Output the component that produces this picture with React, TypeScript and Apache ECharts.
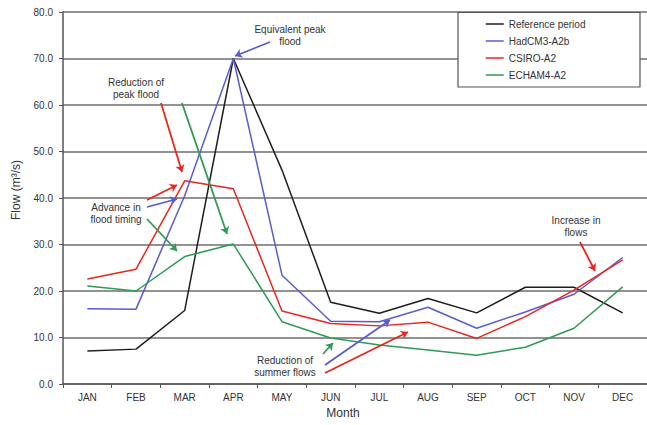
import React, { useEffect, useRef } from "react";
import * as echarts from "echarts";

const months = ["JAN", "FEB", "MAR", "APR", "MAY", "JUN", "JUL", "AUG", "SEP", "OCT", "NOV", "DEC"];
const referencePeriod = [7.1, 7.5, 15.8, 70.0, 46.0, 17.6, 15.2, 18.4, 15.3, 20.8, 20.8, 15.3];
const hadcm3 = [16.2, 16.1, 40.5, 70.0, 23.4, 13.5, 13.4, 16.5, 12.0, 15.5, 19.3, 27.2];
const csiro = [22.6, 24.7, 43.7, 42.0, 15.7, 13.0, 12.5, 13.3, 9.8, 14.5, 20.2, 26.7];
const echam4 = [21.1, 20.0, 27.4, 30.1, 13.4, 9.9, 8.4, 7.3, 6.2, 7.9, 12.0, 20.9];

const BLACK = "#1e1e1e";
const BLUE = "#5b5bd0";
const RED = "#e8261f";
const GREEN = "#2f9a55";
const FONT = "Liberation Sans, Arial, sans-serif";
const TXT = "#333333";

// annotation arrows (pixel positions): [x1, y1, x2, y2]
const blueArrows = [
  [270, 42, 235, 56],
  [147, 207, 177, 199],
  [325, 365, 390, 320],
];
const redArrows = [
  [161, 103, 182, 172],
  [147, 200, 177, 185],
  [325, 373, 408, 332],
  [580, 242, 595, 271],
];
const greenArrows = [
  [182, 103, 227, 234],
  [147, 219, 177, 251],
  [323, 354, 333, 343],
];

const notes = [
  { text: "Equivalent peak\nflood", x: 290, y: 35 },
  { text: "Reduction of\npeak flood", x: 136, y: 88 },
  { text: "Advance in\nflood timing", x: 116, y: 213 },
  { text: "Reduction of\nsummer flows", x: 285, y: 366 },
  { text: "Increase in\nflows", x: 576, y: 226 },
];

function arrowMarks(list: number[][], color: string) {
  return {
    silent: true,
    symbol: ["none", "arrow"],
    symbolSize: 7,
    label: { show: false },
    lineStyle: { color, width: 1.8, type: "solid" },
    data: list.map((a) => [
      { x: a[0], y: a[1] },
      { x: a[2], y: a[3] },
    ]),
  };
}

export default function App() {
  const ref = useRef<HTMLDivElement>(null);
  useEffect(() => {
    if (!ref.current) return;
    const chart = echarts.init(ref.current, null, { renderer: "svg" });
    const mk = (name: string, data: number[], color: string, arrows: number[][]) => ({
      name,
      type: "line",
      data,
      symbol: "none",
      showSymbol: false,
      lineStyle: { color, width: 1.5 },
      itemStyle: { color },
      z: 2,
      markLine: arrows.length ? arrowMarks(arrows, color) : undefined,
    });
    chart.setOption({
      animation: false,
      backgroundColor: "#ffffff",
      textStyle: { fontFamily: FONT },
      grid: { left: 63, right: 0, top: 12, bottom: 41, containLabel: false },
      xAxis: {
        type: "category",
        data: months,
        boundaryGap: true,
        axisLine: { show: true, lineStyle: { color: "#555", width: 1.5 } },
        axisTick: { show: true, inside: false, length: 4, lineStyle: { color: "#555" } },
        axisLabel: { color: TXT, fontSize: 10, margin: 8, fontFamily: FONT },
        splitLine: { show: false },
      },
      yAxis: {
        type: "value",
        min: 0,
        max: 80,
        interval: 10,
        axisLine: { show: true, lineStyle: { color: "#555", width: 1.5 } },
        axisTick: { show: true, length: 4, lineStyle: { color: "#555" } },
        axisLabel: {
          color: TXT,
          fontSize: 10,
          margin: 10,
          fontFamily: FONT,
          formatter: (v: number) => v.toFixed(1),
        },
        splitLine: { show: true, lineStyle: { color: "#6e6e6e", width: 1.5 } },
      },
      legend: {
        orient: "vertical",
        left: 485,
        top: 19,
        itemWidth: 18,
        itemHeight: 10,
        itemGap: 7,
        padding: 0,
        z: 5,
        itemStyle: { opacity: 0 },
        lineStyle: { width: 1.5 },
        textStyle: { color: TXT, fontSize: 10, fontFamily: FONT },
        data: ["Reference period", "HadCM3-A2b", "CSIRO-A2", "ECHAM4-A2"],
      },
      graphic: [
        {
          type: "rect",
          z: 3,
          shape: { x: 458, y: 12.5, width: 182, height: 74.5 },
          style: { fill: "#ffffff", stroke: "#555555", lineWidth: 1.2 },
        },
        {
          type: "text",
          z: 5,
          x: 16,
          y: 190,
          rotation: Math.PI / 2,
          style: {
            text: "Flow (m³/s)",
            fill: TXT,
            font: `12px ${FONT}`,
            align: "center",
            verticalAlign: "middle",
          },
        },
        {
          type: "text",
          z: 5,
          x: 343,
          y: 413,
          style: {
            text: "Month",
            fill: TXT,
            font: `12px ${FONT}`,
            align: "center",
            verticalAlign: "middle",
          },
        },
        ...notes.map((n) => ({
          type: "text",
          z: 5,
          x: n.x,
          y: n.y,
          style: {
            text: n.text,
            fill: TXT,
            font: `10px ${FONT}`,
            lineHeight: 12,
            align: "center",
            verticalAlign: "middle",
          },
        })),
      ],
      series: [
        mk("Reference period", referencePeriod, BLACK, []),
        mk("HadCM3-A2b", hadcm3, BLUE, blueArrows),
        mk("CSIRO-A2", csiro, RED, redArrows),
        mk("ECHAM4-A2", echam4, GREEN, greenArrows),
      ],
    });
    return () => chart.dispose();
  }, []);
  return <div ref={ref} style={{ width: 647, height: 425, position: "absolute", left: 0, top: 0 }} />;
}
